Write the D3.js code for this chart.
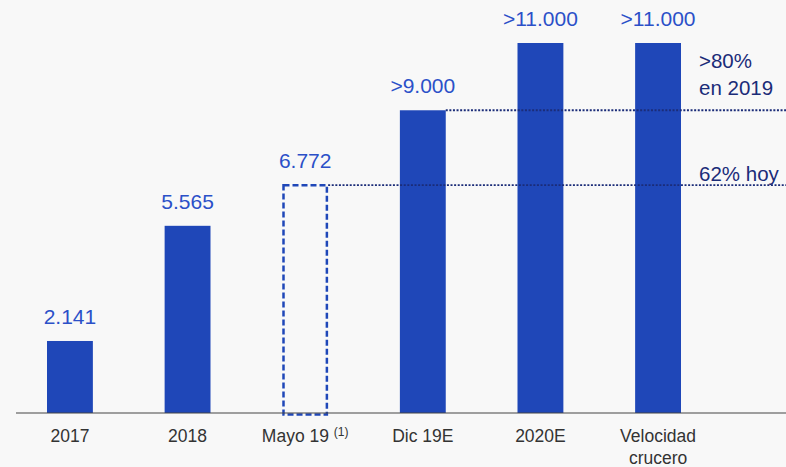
<!DOCTYPE html>
<html>
<head>
<meta charset="utf-8">
<script src="https://cdn.jsdelivr.net/npm/d3@7"></script>
<style>
  html, body { margin: 0; padding: 0; background: #f8f8f8; }
  svg { display: block; font-family: "Liberation Sans", Arial, sans-serif; }
</style>
</head>
<body>
<svg id="chart" width="786" height="467"></svg>
<script>
// Categories, values and the labels printed above each bar
const categories = ["2017", "2018", "Mayo 19", "Dic 19E", "2020E", "Velocidad crucero"];
const values = [2141, 5565, 6772, 9000, 11000, 11000];
const valueLabels = ["2.141", "5.565", "6.772", ">9.000", ">11.000", ">11.000"];
// Categories drawn as an outline (partial period)
const outlined = ["Mayo 19"];
// Reference levels, the bar they start from, and their side notes
const refValues = [6772, 9000];
const refFrom = ["Mayo 19", "Dic 19E"];
const refNotes = [["62% hoy"], [">80%", "en 2019"]];

const W = 786, H = 467;
const baseY = 413;
const svg = d3.select("#chart");

const x = d3.scaleBand().domain(categories).range([47, 681]).paddingInner(0.61).paddingOuter(0);
const y = d3.scaleLinear().domain([0, 11000]).range([baseY, 43]);

const barColor = "#1f47b8";
const labelColor = "#2b50c8";
const noteColor = "#1b2c78";

const data = categories.map((c, i) => ({ cat: c, v: values[i], label: valueLabels[i] }));

// Solid bars
svg.append("g").selectAll("rect")
  .data(data.filter(d => !outlined.includes(d.cat)))
  .join("rect")
  .attr("x", d => x(d.cat))
  .attr("y", d => y(d.v))
  .attr("width", x.bandwidth())
  .attr("height", d => y(0) - y(d.v))
  .attr("fill", barColor);

// Dashed outline bar
svg.append("g").selectAll("rect")
  .data(data.filter(d => outlined.includes(d.cat)))
  .join("rect")
  .attr("x", d => x(d.cat) + 1.25)
  .attr("y", d => y(d.v))
  .attr("width", x.bandwidth() - 2.5)
  .attr("height", d => y(0) - y(d.v) + 1.5)
  .attr("fill", "none")
  .attr("stroke", barColor)
  .attr("stroke-width", 2.5)
  .attr("stroke-dasharray", "6,3");

// Baseline
svg.append("line")
  .attr("x1", 16).attr("x2", W)
  .attr("y1", baseY).attr("y2", baseY)
  .attr("stroke", "#444").attr("stroke-width", 1.2);

// Dotted reference lines with notes
refValues.forEach((v, i) => {
  const x0 = x(refFrom[i]) + x.bandwidth();
  svg.append("line")
    .attr("x1", x0).attr("x2", W)
    .attr("y1", y(v)).attr("y2", y(v))
    .attr("stroke", noteColor)
    .attr("stroke-width", 1.8)
    .attr("stroke-dasharray", "2,1.6");
  const lines = refNotes[i];
  const t = svg.append("text")
    .attr("x", 699)
    .attr("fill", noteColor)
    .attr("font-size", 20.5);
  lines.forEach((s, j) => {
    const offset = lines.length > 1 ? 15 + (lines.length - 1 - j) * 27 : 4;
    t.append("tspan").attr("x", 699).attr("y", y(v) - offset).text(s);
  });
});

// Value labels above bars
svg.append("g").selectAll("text")
  .data(data)
  .join("text")
  .attr("x", d => x(d.cat) + x.bandwidth() / 2)
  .attr("y", d => y(d.v) - 17)
  .attr("text-anchor", "middle")
  .attr("fill", labelColor)
  .attr("font-size", 21)
  .text(d => d.label);

// Category axis
const axis = svg.append("g")
  .attr("transform", `translate(0,${baseY})`)
  .call(d3.axisBottom(x).tickSize(0).tickPadding(0));
axis.select(".domain").remove();
axis.selectAll(".tick text")
  .attr("fill", "#333")
  .attr("font-size", 17.5)
  .attr("font-family", "Liberation Sans, Arial, sans-serif")
  .attr("dy", null)
  .attr("y", 29)
  .each(function(d) {
    const t = d3.select(this);
    t.text(null);
    if (d === "Mayo 19") {
      t.append("tspan").text("Mayo 19 ");
      t.append("tspan").attr("font-size", 12).attr("dy", -6).text("(1)");
    } else if (d === "Velocidad crucero") {
      t.append("tspan").attr("x", 0).text("Velocidad");
      t.append("tspan").attr("x", 0).attr("dy", 21.5).text("crucero");
    } else {
      t.text(d);
    }
  });
</script>
</body>
</html>
